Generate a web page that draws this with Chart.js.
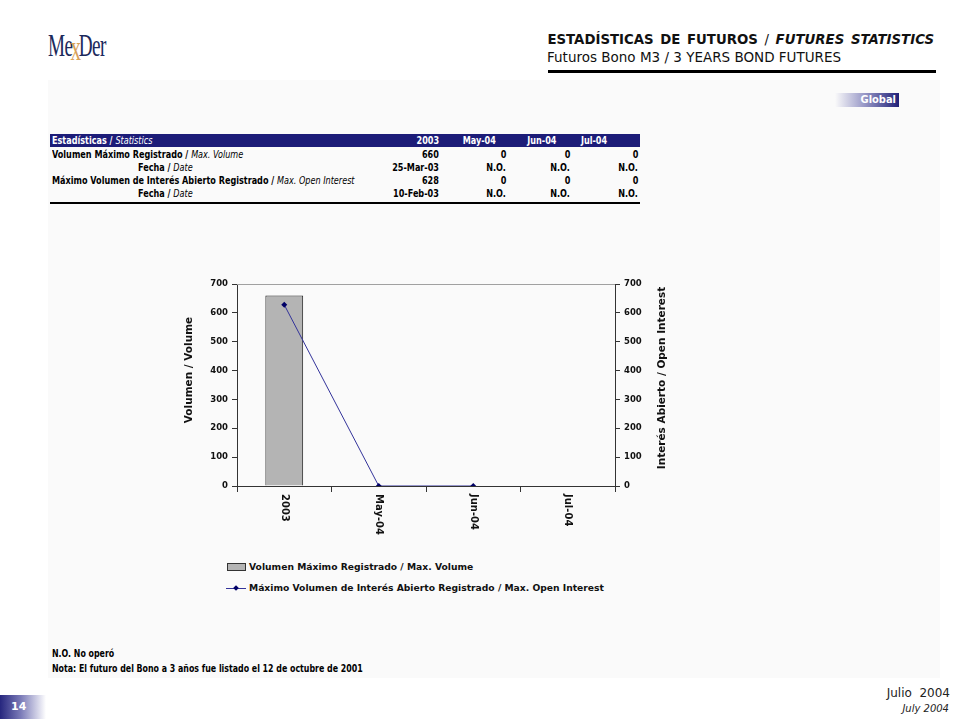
<!DOCTYPE html>
<html>
<head>
<meta charset="utf-8">
<script src="https://cdn.jsdelivr.net/npm/chart.js@4.4.0/dist/chart.umd.min.js"></script>
<style>
    body { margin: 0; width: 960px; height: 720px; background: #fff; position: relative; overflow: hidden; font-family: "DejaVu Sans", Verdana, sans-serif; }
    .abs { position: absolute; white-space: nowrap; }
    .narrow { font-family: "Liberation Sans Narrow", "DejaVu Sans Condensed", sans-serif; font-weight: bold; }
    #panel { left: 48px; top: 80px; width: 892px; height: 598px; background: #fafafa; }
    #logo { left: 48px; top: 25px; font-family: "Liberation Serif", serif; font-size: 32px; color: #1c2a5c; transform: scaleX(0.6); transform-origin: left top; letter-spacing: -1px; }
    #logo .x { color: #d9a259; font-size: 35px; position: relative; top: 4px; margin: 0 -3px; }
    #title1 { right: 26px; top: 32px; font-size: 13.3px; font-weight: bold; color: #111; word-spacing: 2px; }
    #title2 { left: 547px; top: 49px; font-size: 13.5px; color: #111; }
    #rule { left: 548px; top: 70px; width: 388px; height: 3px; background: #000; }
    #global { left: 835px; top: 93px; width: 64px; height: 14px; background: linear-gradient(to right, #fafafa 0%, #9a9ac8 45%, #202078 100%); color: #fff; font-size: 11px; text-align: right; line-height: 14px; padding-right: 3px; box-sizing: border-box; }
    #thead { left: 50px; top: 134px; width: 590px; height: 13px; background: #1c1c78; }
    #tline { left: 50px; top: 202px; width: 590px; height: 2px; background: #000; }
    .cell { font-size: 10px; line-height: 13px; color: #000; }
    .hcell { color: #fff; }
    .it { font-style: italic; font-weight: normal; }
    #chartBox { left: 170px; top: 270px; width: 520px; height: 290px; }
    .leg { font-size: 9.2px; font-weight: bold; color: #111; }
    .note { font-size: 10px; transform: scaleX(0.875); transform-origin: left center; }
    #pageNo { left: 0; top: 695px; width: 46px; height: 24px; background: linear-gradient(to right, #26267e 0%, #7b7bb8 45%, #ffffff 100%); color: #fff; font-size: 11px; font-weight: bold; line-height: 24px; padding-left: 11px; box-sizing: border-box; }
</style>
</head>
<body>
<div class="abs" id="panel"></div>
<div class="abs" id="logo">Me<span class="x">x</span>Der</div>
<div class="abs" id="title1">ESTADÍSTICAS DE FUTUROS <span style="font-weight:normal">/</span> <i>FUTURES STATISTICS</i></div>
<div class="abs" id="title2">Futuros Bono M3 / 3 YEARS BOND FUTURES</div>
<div class="abs" id="rule"></div>
<div class="abs narrow" id="global">Global</div>

<div class="abs" id="thead"></div>
<div class="abs" id="tline"></div>
<div id="table"></div>

<div class="abs" id="chartBox"><canvas id="myChart" width="520" height="290"></canvas></div>

<div class="abs" style="left:227px;top:563px;width:17px;height:6px;background:#b4b4b4;border:1px solid #333;"></div>
<div class="abs leg" style="left:249px;top:561px;">Volumen Máximo Registrado / Max. Volume</div>
<div class="abs" style="left:226px;top:588px;width:20px;height:1px;background:#33339a;"></div>
<div class="abs" style="left:234px;top:586px;width:4px;height:4px;background:#000066;transform:rotate(45deg);"></div>
<div class="abs leg" style="left:249px;top:582px;">Máximo Volumen de Interés Abierto Registrado / Max. Open Interest</div>

<div class="abs narrow note" style="left:52px;top:648px;">N.O. No operó</div>
<div class="abs narrow note" style="left:52px;top:663px;">Nota: El futuro del Bono a 3 años fue listado el 12 de octubre de 2001</div>

<div class="abs" style="right:10px;top:686px;font-size:12px;color:#222;">Julio&nbsp; 2004</div>
<div class="abs" style="right:11px;top:703px;font-size:10px;font-style:italic;color:#222;">July 2004</div>
<div class="abs" id="pageNo">14</div>

<script>
const categories = ['2003', 'May-04', 'Jun-04', 'Jul-04'];
const maxVolume = [660, 0, 0, 0];
const maxOpenInterest = [628, 0, 0, null];

const tableHeader = ['2003', 'May-04', 'Jun-04', 'Jul-04'];
const volumeRow = ['660', '0', '0', '0'];
const volumeDateRow = ['25-Mar-03', 'N.O.', 'N.O.', 'N.O.'];
const interestRow = ['628', '0', '0', '0'];
const interestDateRow = ['10-Feb-03', 'N.O.', 'N.O.', 'N.O.'];

/* table */

function addCell(html, x, y, alignRight, extraClass) {
    const d = document.createElement('div');
    d.className = 'abs narrow cell ' + (extraClass || '');
    d.innerHTML = html;
    d.style.top = y + 'px';
    d.style.transform = 'scaleX(0.9)';
    if (alignRight) {
        d.style.right = (960 - x) + 'px';
        d.style.transformOrigin = 'right center';
    } else {
        d.style.left = x + 'px';
        d.style.transformOrigin = 'left center';
    }
    document.getElementById('table').appendChild(d);
}

const headRight = [439, 496, 556, 607];
const colRight = [439, 506, 570, 638];

addCell('Estadísticas / <span class="it">Statistics</span>', 52, 134, false, 'hcell');
tableHeader.forEach((h, i) => addCell(h, headRight[i], 134, true, 'hcell'));

const rows = [
    { label: 'Volumen Máximo Registrado / <span class="it">Max. Volume</span>', x: 52, values: volumeRow },
    { label: 'Fecha / <span class="it">Date</span>', x: 138, values: volumeDateRow },
    { label: 'Máximo Volumen de Interés Abierto Registrado / <span class="it">Max. Open Interest</span>', x: 52, values: interestRow },
    { label: 'Fecha / <span class="it">Date</span>', x: 138, values: interestDateRow },
];
rows.forEach((row, r) => {
    const y = 148 + r * 13;
    addCell(row.label, row.x, y, false);
    row.values.forEach((v, i) => addCell(v, colRight[i], y, true));
});

/* chart */

const tickFont = { family: '"DejaVu Sans", Verdana, sans-serif', size: 8.5, weight: 'bold' };

const customText = {
    id: 'customText',
    afterDraw(chart) {
        const ctx = chart.ctx;
        const area = chart.chartArea;
        const x = chart.scales.x;
        const midY = (area.top + area.bottom) / 2;

        ctx.save();
        // top frame line
        ctx.strokeStyle = '#a0a0a0';
        ctx.lineWidth = 1;
        ctx.beginPath();
        ctx.moveTo(area.left, area.top + 0.5);
        ctx.lineTo(area.right, area.top + 0.5);
        ctx.stroke();

        ctx.fillStyle = '#111';
        ctx.font = 'bold 10px "DejaVu Sans", Verdana, sans-serif';
        ctx.textAlign = 'left';
        ctx.textBaseline = 'middle';
        categories.forEach((c, i) => {
            ctx.save();
            ctx.translate(x.getPixelForValue(i), area.bottom + 8);
            ctx.rotate(Math.PI / 2);
            ctx.fillText(c, 0, 0);
            ctx.restore();
        });

        ctx.font = 'bold 10.5px "DejaVu Sans", Verdana, sans-serif';
        ctx.textAlign = 'center';
        ctx.save();
        ctx.translate(area.left - 48, midY - 15);
        ctx.rotate(-Math.PI / 2);
        ctx.fillText('Volumen / Volume', 0, 0);
        ctx.restore();

        ctx.save();
        ctx.translate(area.right + 47, midY - 7);
        ctx.rotate(-Math.PI / 2);
        ctx.fillText('Interés Abierto / Open Interest', 0, 0);
        ctx.restore();
        ctx.restore();
    },
};

const ctx = document.getElementById('myChart').getContext('2d');
new Chart(ctx, {
    data: {
        labels: categories,
        datasets: [
            {
                type: 'line',
                label: 'Máximo Volumen de Interés Abierto Registrado / Max. Open Interest',
                data: maxOpenInterest,
                yAxisID: 'y1',
                borderColor: '#33339a',
                borderWidth: 1,
                pointStyle: 'rectRot',
                pointRadius: 3,
                pointBackgroundColor: '#000066',
                pointBorderColor: '#000066',
                pointBorderWidth: 0,
                tension: 0,
                spanGaps: false,
                order: 0,
            },
            {
                type: 'bar',
                label: 'Volumen Máximo Registrado / Max. Volume',
                data: maxVolume,
                yAxisID: 'y',
                backgroundColor: '#b4b4b4',
                borderColor: '#222',
                borderWidth: 1,
                barPercentage: 0.4,
                categoryPercentage: 1,
                order: 1,
            },
        ],
    },
    options: {
        responsive: false,
        animation: false,
        layout: { padding: { top: 14, left: 0, right: 0, bottom: 0 } },
        plugins: { legend: { display: false }, tooltip: { enabled: false } },
        scales: {
            x: {
                offset: true,
                ticks: { display: false },
                grid: { offset: true, drawOnChartArea: false, tickLength: 6, tickColor: '#333' },
                border: { color: '#333' },
                afterFit: (scale) => { scale.height = 74; },
            },
            y: {
                position: 'left',
                min: 0,
                max: 700,
                ticks: { stepSize: 100, color: '#111', font: tickFont, padding: 4 },
                grid: { drawOnChartArea: false, tickLength: 5, tickColor: '#333' },
                border: { color: '#333' },
                afterFit: (scale) => { scale.width = 67; },
            },
            y1: {
                position: 'right',
                min: 0,
                max: 700,
                ticks: { stepSize: 100, color: '#111', font: tickFont, padding: 4 },
                grid: { drawOnChartArea: false, tickLength: 5, tickColor: '#333' },
                border: { color: '#333' },
                afterFit: (scale) => { scale.width = 75; },
            },
        },
    },
    plugins: [customText],
});
</script>
</body>
</html>
